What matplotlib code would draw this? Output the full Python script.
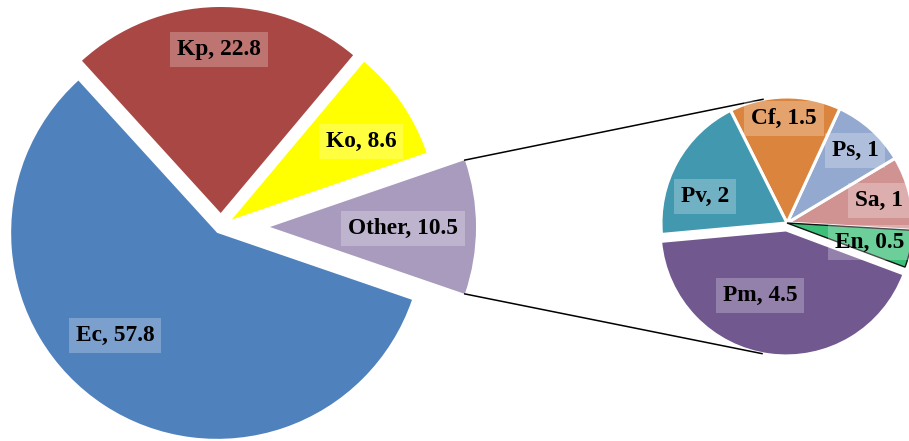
import numpy as np
import matplotlib
matplotlib.use("Agg")
import matplotlib.pyplot as plt

# Primary breakdown (counter-clockwise from the "Other" wedge)
main_labels = ["Other", "Ko", "Kp", "Ec"]
main_values = [10.5, 8.6, 22.8, 57.8]
main_colors = ["#A99BBE", "#FFFF00", "#A94744", "#4F81BD"]

# Breakdown of "Other" (counter-clockwise from En)
sub_labels = ["En", "Sa", "Ps", "Cf", "Pv", "Pm"]
sub_values = [0.5, 1, 1, 1.5, 2, 4.5]
sub_colors = ["#3CBF78", "#D19392", "#93A9CF", "#DB843D", "#4198AF", "#71588F"]

W, H = 909, 441
fig = plt.figure(figsize=(W / 100, H / 100), dpi=100)
ax = fig.add_axes([0, 0, 1, 1])

# geometry in pixel units (y up)
main_center = (221, H - 227)
main_radius = 206
main_explode = [49, 13, 14, 7]

sub_center = (787, H - 223)
sub_radius = 126
sub_explode = [0, 0, 0, 0, 0, 7]

main_start = -360 * main_values[0] / sum(main_values) / 2
wedges_main, _ = ax.pie(main_values, colors=main_colors, explode=main_explode,
                        center=main_center, radius=main_radius,
                        startangle=main_start, counterclock=True,
                        wedgeprops=dict(linewidth=0), frame=True)

wedges_sub, _ = ax.pie(sub_values, colors=sub_colors, explode=sub_explode,
                       center=sub_center, radius=sub_radius,
                       startangle=-20.5, counterclock=True,
                       wedgeprops=dict(linewidth=2.2, edgecolor="white"),
                       frame=True)
# thin dark outline on the smallest wedge
wedges_sub[0].set_edgecolor("#111111")
wedges_sub[0].set_linewidth(1.0)
wedges_sub[0].set_zorder(3)

# connector lines from the "Other" wedge to the secondary pie
ow = wedges_main[0]
ocx, ocy = ow.center
t1, t2 = np.deg2rad(ow.theta1), np.deg2rad(ow.theta2)
p_top = (ocx + main_radius * np.cos(t2), ocy + main_radius * np.sin(t2))
p_bot = (ocx + main_radius * np.cos(t1), ocy + main_radius * np.sin(t1))
a = np.deg2rad(101)
pm = wedges_sub[-1]
q_top = (sub_center[0] + sub_radius * np.cos(a), sub_center[1] + sub_radius * np.sin(a))
q_bot = (pm.center[0] + sub_radius * np.cos(-a), pm.center[1] + sub_radius * np.sin(-a))
ax.plot([p_top[0], q_top[0]], [p_top[1], q_top[1]], color="black", lw=1.1, zorder=4)
ax.plot([p_bot[0], q_bot[0]], [p_bot[1], q_bot[1]], color="black", lw=1.1, zorder=4)

# label positions (pixels, y down)
main_label_pos = [(403, 228), (361, 141), (219, 49), (115, 335)]
sub_label_pos = [(870, 242), (879, 200), (855, 150), (784, 118), (705, 196), (760, 295)]

font = dict(family=["Liberation Serif", "DejaVu Serif"], weight="bold", size=16.8)
box = dict(boxstyle="square,pad=0.3", fc="white", alpha=0.25, ec="none")

for name, val, (x, y) in zip(main_labels, main_values, main_label_pos):
    ax.text(x, H - y, f"{name}, {val:g}", ha="center", va="center",
            bbox=box, zorder=5, **font)
for name, val, (x, y) in zip(sub_labels, sub_values, sub_label_pos):
    ax.text(x, H - y, f"{name}, {val:g}", ha="center", va="center",
            bbox=box, zorder=5, **font)

ax.set_xlim(0, W)
ax.set_ylim(0, H)
ax.set_aspect("equal")
ax.axis("off")

fig.savefig("out.png", dpi=100)
